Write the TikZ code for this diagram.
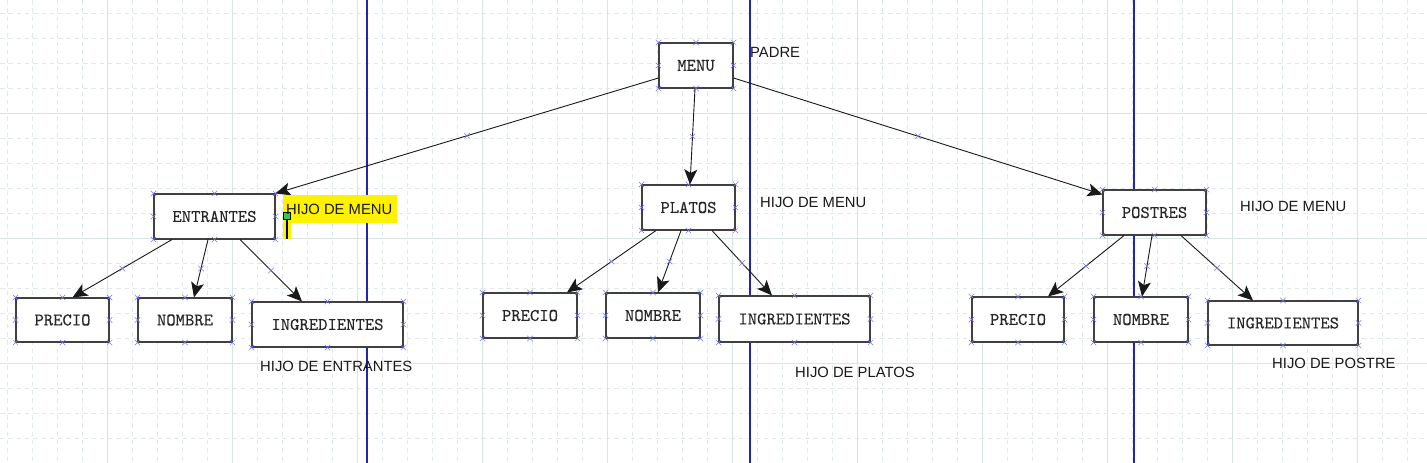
\documentclass[tikz,border=0pt]{standalone}
\usepackage{fontspec}
\usetikzlibrary{arrows.meta,shapes.misc}
\setmainfont{Liberation Sans}
\newfontfamily\cajafont[FakeBold=0.15]{lmmono10-regular.otf}
\newcommand{\cf}{\cajafont\fontsize{17.8}{20}\selectfont}
\newcommand{\lf}{\fontsize{14.8}{16}\selectfont}
\definecolor{rejilla}{RGB}{224,234,234}
\definecolor{rejillab}{RGB}{216,229,229}
\definecolor{guia}{RGB}{36,36,176}
\definecolor{marcaazul}{RGB}{120,120,240}

\begin{document}
\begin{tikzpicture}[x=1pt,y=-1pt,
  caja/.style={draw=black!75,line width=1.1pt,fill=white,inner sep=0pt,font=\cf,text=black!85},
  marca/.style={cross out,draw=marcaazul,line width=0.5pt,minimum size=5pt,inner sep=0pt},
  flecha/.style={-{Stealth[length=15pt,width=13pt,inset=3.5pt]},line width=0.9pt,black!90},
  etiqueta/.style={anchor=west,inner sep=0pt,font=\lf,text=black!90}]
   \useasboundingbox (0,0) rectangle (1427,463);
   \fill[white] (0,0) rectangle (1427,463);
   % rejilla
   \foreach \i in {0,...,56}
     \draw[rejilla,line width=0.8pt,dash pattern=on 4.5pt off 3.8pt] (7+25*\i,0) -- (7+25*\i,463);
   \foreach \i in {0,...,18}
     \draw[rejilla,line width=0.8pt,dash pattern=on 4.5pt off 3.8pt] (0,13+25*\i) -- (1427,13+25*\i);
   \foreach \x in {107,232,...,1357}
     \draw[rejillab,line width=1pt] (\x,0) -- (\x,463);
   \foreach \y in {113,238,363}
     \draw[rejillab,line width=1pt] (0,\y) -- (1427,\y);
   \foreach \x in {367,750,1134}
     \draw[guia,line width=1.3pt] (\x,0) -- (\x,463);
   % cajas
   \node[caja,minimum width=74pt,minimum height=45pt] (menu) at (696,65.5) {MENU};
   \node[caja,minimum width=121pt,minimum height=45pt] (ent) at (214.5,216.5) {ENTRANTES};
   \node[caja,minimum width=93pt,minimum height=45pt] (pla) at (688.5,207.5) {PLATOS};
   \node[caja,minimum width=103pt,minimum height=45pt] (pos) at (1154.5,212.5) {POSTRES};
   \node[caja,minimum width=93pt,minimum height=44pt] (eprec) at (62.5,320) {PRECIO};
   \node[caja,minimum width=94pt,minimum height=44pt] (enom) at (185,320) {NOMBRE};
   \node[caja,minimum width=151pt,minimum height=45pt] (eing) at (327.5,324.5) {INGREDIENTES};
   \node[caja,minimum width=94pt,minimum height=45pt] (pprec) at (530,315.5) {PRECIO};
   \node[caja,minimum width=94pt,minimum height=45pt] (pnom) at (653,315.5) {NOMBRE};
   \node[caja,minimum width=151pt,minimum height=46pt] (ping) at (794.5,319) {INGREDIENTES};
   \node[caja,minimum width=92pt,minimum height=45pt] (sprec) at (1018,319.5) {PRECIO};
   \node[caja,minimum width=94pt,minimum height=45pt] (snom) at (1141,319.5) {NOMBRE};
   \node[caja,minimum width=150pt,minimum height=44pt] (sing) at (1283,323) {INGREDIENTES};
   \foreach \n in {menu,ent,pla,pos,eprec,enom,eing,pprec,pnom,ping,sprec,snom,sing}
     \foreach \a in {north west,north,north east,east,south east,south,south west,west}
       \node[marca] at (\n.\a) {};
   % flechas
   \draw[flecha] ([yshift=-12.5pt]menu.west) -- (ent.north east) node[marca,pos=.5]{};
   \draw[flecha] ([xshift=-1pt]menu.south) -- ([xshift=1.5pt]pla.north) node[marca,pos=.5]{};
   \draw[flecha] ([yshift=-12.5pt]menu.east) -- ([yshift=-5pt]pos.north west) node[marca,pos=.5]{};
   \draw[flecha] ([xshift=-42.5pt]ent.south) -- ([xshift=10pt]eprec.north) node[marca,pos=.5]{};
   \draw[flecha] ([xshift=-6.5pt]ent.south) -- ([xshift=9pt]enom.north) node[marca,pos=.5]{};
   \draw[flecha] ([xshift=25.5pt]ent.south) -- ([xshift=-25.5pt]eing.north) node[marca,pos=.5]{};
   \draw[flecha] ([xshift=-32.5pt]pla.south) -- ([xshift=37pt]pprec.north) node[marca,pos=.5]{};
   \draw[flecha] ([xshift=-7.5pt]pla.south) -- ([xshift=5pt]pnom.north) node[marca,pos=.5]{};
   \draw[flecha] ([xshift=23.5pt]pla.south) -- ([xshift=-22.5pt]ping.north) node[marca,pos=.5]{};
   \draw[flecha] ([xshift=-30.5pt]pos.south) -- ([xshift=30pt]sprec.north) node[marca,pos=.5]{};
   \draw[flecha] ([xshift=-2.5pt]pos.south) -- ([xshift=1pt]snom.north) node[marca,pos=.5]{};
   \draw[flecha] ([xshift=26.5pt]pos.south) -- ([xshift=-30pt]sing.north) node[marca,pos=.5]{};
   % etiquetas
   \fill[yellow] (283,195) rectangle (397,223);
   \fill[yellow] (283,223) rectangle (291,239);
   \draw[line width=1.2pt] (287,219) -- (287,239);
   \filldraw[fill={rgb,255:red,60;green,200;blue,60},draw=black,line width=0.7pt] (283.5,212) rectangle (290.5,219);
   \node[etiqueta] (padre) at (750,52) {PADRE};
   \node[etiqueta] (hmenua) at (286,209) {HIJO DE MENU};
   \node[etiqueta] (hmenub) at (760,202) {HIJO DE MENU};
   \node[etiqueta] (hmenuc) at (1240,206) {HIJO DE MENU};
   \node[etiqueta] (hent) at (260,366) {HIJO DE ENTRANTES};
   \node[etiqueta] (hpla) at (795,372) {HIJO DE PLATOS};
   \node[etiqueta] (hpos) at (1272,363) {HIJO DE POSTRE};
  \end{tikzpicture}
\end{document}
